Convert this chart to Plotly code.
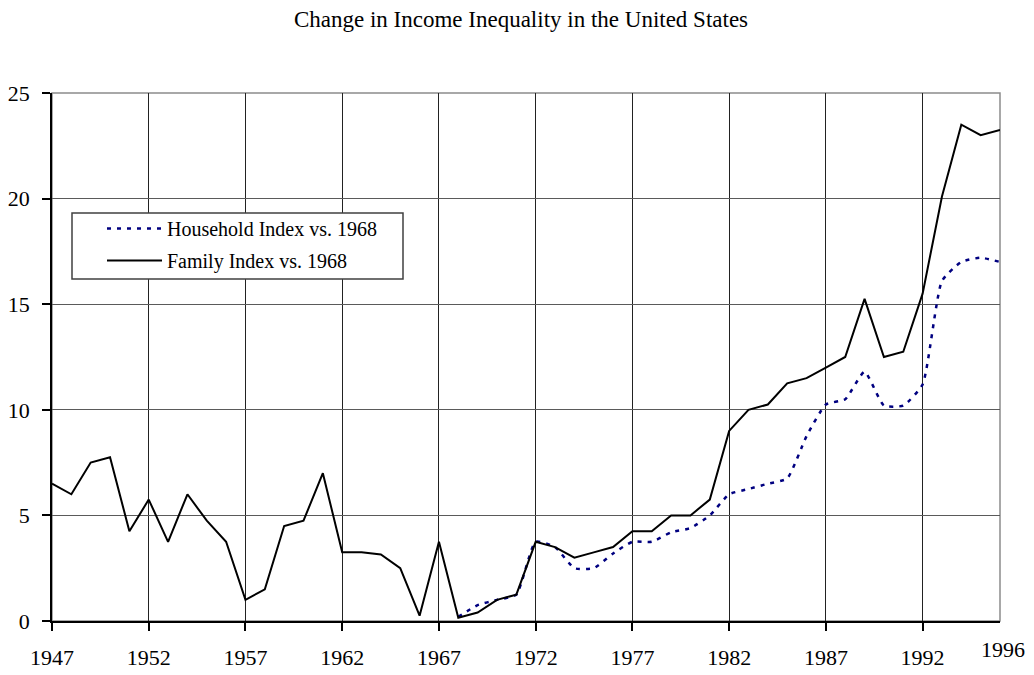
import plotly.graph_objects as go

years = list(range(1947, 1997))
family = [6.5, 6.0, 7.5, 7.75, 4.25, 5.75, 3.75, 6.0, 4.75, 3.75,
          1.0, 1.5, 4.5, 4.75, 7.0, 3.25, 3.25, 3.15, 2.5, 0.25,
          3.75, 0.15, 0.4, 1.0, 1.25, 3.75, 3.5, 3.0, 3.25, 3.5,
          4.25, 4.25, 5.0, 5.0, 5.75, 9.0, 10.0, 10.25, 11.25, 11.5,
          12.0, 12.5, 15.25, 12.5, 12.75, 15.5, 20.1, 23.5, 23.0, 23.25]
hh_years = list(range(1968, 1997))
household = [0.2, 0.75, 1.0, 1.25, 3.75, 3.5, 2.5, 2.5, 3.2, 3.75,
             3.75, 4.2, 4.4, 5.0, 6.0, 6.25, 6.5, 6.75, 8.75, 10.25,
             10.5, 11.8, 10.2, 10.2, 11.2, 16.1, 17.0, 17.2, 17.0]
x_ticks = list(range(1947, 1993, 5))
y_ticks = [0, 5, 10, 15, 20, 25]

FONT = "Liberation Serif, Times New Roman, serif"

fig = go.Figure()
fig.add_trace(go.Scatter(x=hh_years, y=household, mode="lines",
                         name="Household Index vs. 1968", legendgroup="a",
                         line=dict(color="#000080", width=2.5, dash="4px,6px",
                                   shape="spline", smoothing=0.5)))
fig.add_trace(go.Scatter(x=years, y=family, mode="lines",
                         name="Family Index vs. 1968", legendgroup="b",
                         line=dict(color="black", width=2)))

OFF = 8  # page body margin offset
W, H = 1034 - OFF, 675 - OFF
L, R, T, B = 52 - OFF, 34, 93 - OFF, 54
pw, ph = W - L - R, H - T - B

def px_x(x):
    return (x - OFF - L) / pw

def px_y(y):
    return (H + OFF - B - y) / ph

fig.update_layout(
    width=W, height=H,
    margin=dict(l=L, r=R, t=T, b=B, autoexpand=False),
    paper_bgcolor="white", plot_bgcolor="white",
    font=dict(family=FONT, color="black", size=22),
    title=dict(text="Change in Income Inequality in the United States",
               x=(521 - OFF) / W, xanchor="center", y=1 - (19 - OFF) / H, yanchor="middle",
               font=dict(family=FONT, size=23, color="black")),
    showlegend=True,
    legend=dict(x=px_x(102), y=px_y(209), xanchor="left", yanchor="top",
                bgcolor="rgba(0,0,0,0)", borderwidth=0,
                font=dict(family=FONT, size=20, color="black"),
                itemwidth=55, tracegroupgap=3),
    shapes=[
        dict(type="rect", xref="paper", yref="paper", x0=0, x1=1, y0=0, y1=1,
             line=dict(color="#8c8c8c", width=1.5), layer="below"),
        dict(type="rect", xref="paper", yref="paper",
             x0=px_x(72), x1=px_x(403), y0=px_y(279), y1=px_y(213),
             line=dict(color="#404040", width=1.5), fillcolor="white", layer="above"),
    ],
    annotations=[
        dict(text="1996", x=1996, xref="x", y=0, yref="paper", yshift=-28, xshift=3,
             xanchor="center", yanchor="middle", showarrow=False,
             font=dict(family=FONT, size=22, color="black"))
    ],
)
fig.update_xaxes(range=[1947, 1996], tickvals=x_ticks, ticks="outside", ticklen=8,
                 tickwidth=1.5, tickcolor="black", showline=True, linecolor="black",
                 linewidth=1.5, showgrid=True, gridcolor="#222222", gridwidth=1,
                 zeroline=False, ticklabelstandoff=8, automargin=False,
                 tickfont=dict(size=22))
fig.update_yaxes(range=[0, 25], tickvals=y_ticks, ticks="outside", ticklen=8,
                 tickwidth=1.5, tickcolor="black", showline=True, linecolor="black",
                 linewidth=1.5, showgrid=True, gridcolor="#5a5a5a", gridwidth=1,
                 zeroline=False, ticklabelstandoff=8, automargin=False,
                 tickfont=dict(size=22))

fig.write_html("out.html")
